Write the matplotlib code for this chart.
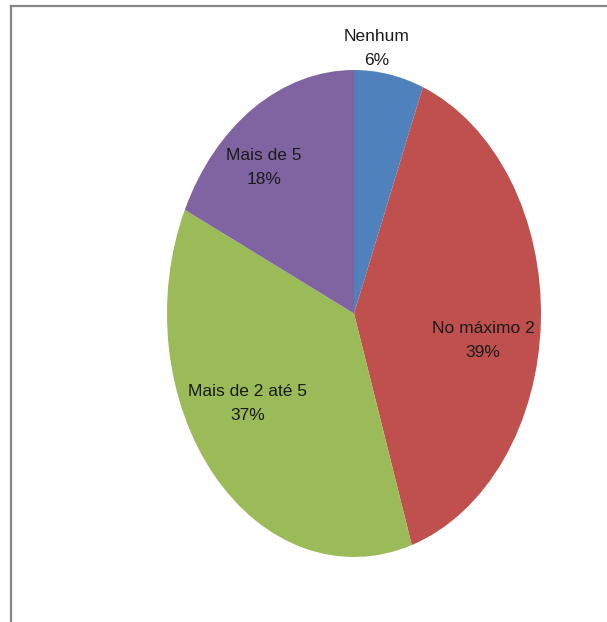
import numpy as np
import matplotlib
matplotlib.use("Agg")
from matplotlib import pyplot as plt
from matplotlib.lines import Line2D

labels = ['Nenhum', 'No máximo 2', 'Mais de 2 até 5', 'Mais de 5']
shares = [6, 39, 37, 18]
colors = ['#4F81BD', '#C0504D', '#9BBB59', '#8064A2']

# label offsets (as fractions of the pie radius) for each slice
label_pos = [(0.12, 1.09), (0.69, -0.11), (-0.57, -0.37), (-0.48, 0.60)]

plt.rcParams['font.family'] = ['Liberation Sans Narrow', 'Liberation Sans', 'DejaVu Sans']

fig = plt.figure(figsize=(6.07, 6.22), dpi=100)
ax = fig.add_axes([167 / 607, 1 - 557 / 622, 374 / 607, 487 / 622])
ax.pie(shares, colors=colors, startangle=90, counterclock=False,
       wedgeprops={'linewidth': 0})
ax.set_aspect('auto')
ax.set_xlim(-1, 1)
ax.set_ylim(-1, 1)
ax.axis('off')

for name, val, (x, y) in zip(labels, shares, label_pos):
    ax.text(x, y, f'{name}\n{val}%', ha='center', va='center',
            fontsize=12.5, color='#1a1a1a', linespacing=1.75)

# chart border (top and left edges)
y_top = 1 - 5.5 / 622
x_left = 11 / 607
fig.add_artist(Line2D([x_left, 1], [y_top, y_top], transform=fig.transFigure,
                      color='#868686', lw=1.6))
fig.add_artist(Line2D([x_left, x_left], [0, y_top], transform=fig.transFigure,
                      color='#868686', lw=1.6))

fig.savefig('out.png', dpi=100)
